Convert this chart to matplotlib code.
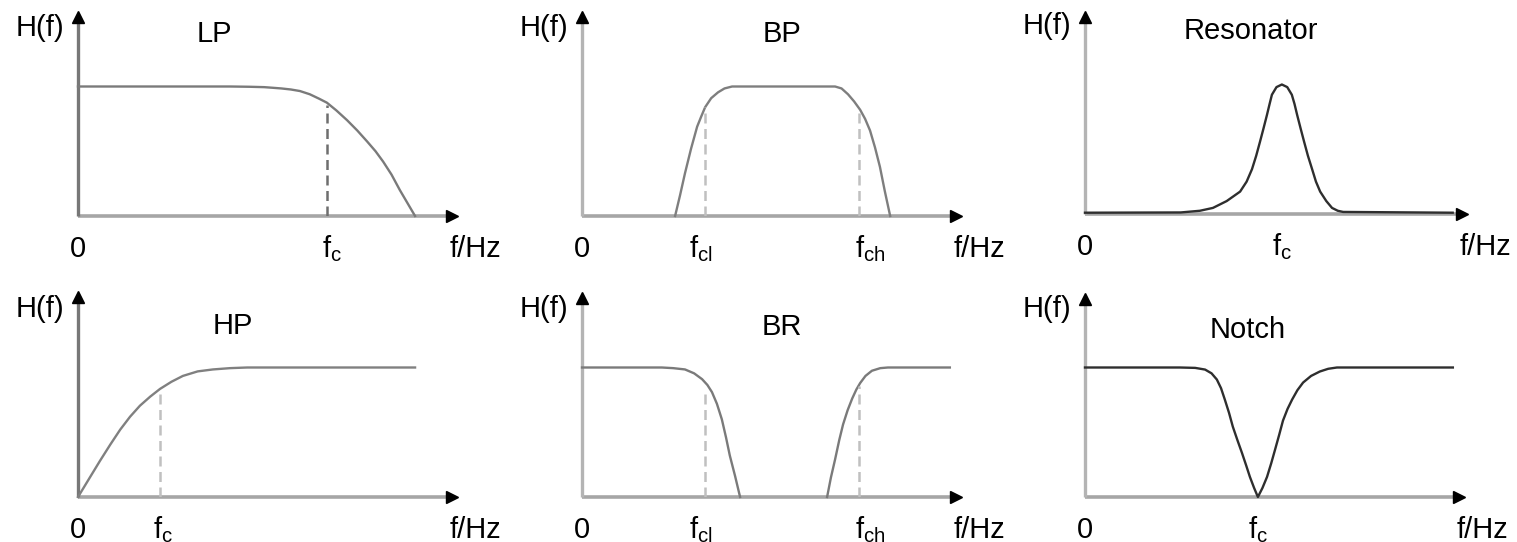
import matplotlib
matplotlib.use('Agg')
from matplotlib import pyplot as plt

plt.rcParams['font.family'] = ['Liberation Sans', 'DejaVu Sans']
plt.rcParams['mathtext.default'] = 'regular'

FS = 21
W, H = 1517, 542
gap = float('nan')

# frequency axis normalised to the arrow tip, gain normalised to the pass band
lp_f = [0.0, 0.40, 0.45, 0.49, 0.513, 0.535, 0.56, 0.584, 0.61, 0.635, 0.655,
        0.68, 0.708, 0.735, 0.761, 0.783, 0.803, 0.825, 0.847, 0.867, 0.887]
lp_h = [1.0, 1.0, 0.998, 0.995, 0.99, 0.985, 0.977, 0.965, 0.94, 0.905, 0.875,
        0.815, 0.74, 0.66, 0.575, 0.50, 0.42, 0.32, 0.2, 0.1, 0.0]

bp_f = [0.245, 0.258, 0.271, 0.287, 0.303, 0.314, 0.324, 0.34, 0.358, 0.375, 0.395,
        0.666, 0.683, 0.700, 0.716, 0.732, 0.745, 0.758, 0.771, 0.784, 0.797, 0.811]
bp_h = [0.0, 0.16, 0.33, 0.52, 0.69, 0.77, 0.84, 0.91, 0.955, 0.985, 1.0,
        1.0, 0.985, 0.94, 0.885, 0.82, 0.75, 0.66, 0.53, 0.38, 0.19, 0.0]

res_f = [0.0, 0.25, 0.30, 0.334, 0.37, 0.405, 0.422, 0.436, 0.447, 0.457, 0.466,
         0.475, 0.482, 0.488, 0.50, 0.514, 0.528, 0.540, 0.547, 0.554, 0.563,
         0.572, 0.582, 0.593, 0.603, 0.614, 0.63, 0.645, 0.66, 0.674, 0.96]
res_h = [0.01, 0.012, 0.025, 0.047, 0.1, 0.173, 0.25, 0.346, 0.45, 0.559, 0.66,
         0.764, 0.85, 0.921, 0.98, 1.0, 0.98, 0.921, 0.85, 0.764, 0.66,
         0.559, 0.45, 0.346, 0.25, 0.173, 0.1, 0.047, 0.025, 0.016, 0.01]

hp_f = [0.0, 0.03, 0.058, 0.085, 0.111, 0.137, 0.163, 0.19, 0.216, 0.246,
        0.276, 0.315, 0.355, 0.40, 0.445, 0.887]
hp_h = [0.0, 0.145, 0.28, 0.405, 0.52, 0.62, 0.705, 0.775, 0.835, 0.89,
        0.935, 0.97, 0.985, 0.995, 1.0, 1.0]

br_f = [0.0, 0.21, 0.24, 0.271, 0.295, 0.316, 0.33, 0.342, 0.355, 0.368, 0.379,
        0.389, 0.403, 0.416, gap, 0.645, 0.655, 0.666, 0.677, 0.687, 0.699,
        0.711, 0.722, 0.732, 0.746, 0.763, 0.785, 0.805, 0.968]
br_h = [1.0, 1.0, 0.995, 0.985, 0.955, 0.91, 0.865, 0.81, 0.72, 0.6, 0.46,
        0.32, 0.16, 0.0, gap, 0.0, 0.15, 0.29, 0.44, 0.56, 0.67,
        0.76, 0.83, 0.88, 0.935, 0.975, 0.995, 1.0, 1.0]

notch_f = [0.0, 0.25, 0.29, 0.316, 0.333, 0.347, 0.358, 0.368, 0.379, 0.389,
           0.401, 0.413, 0.424, 0.434, 0.445, 0.455, 0.467, 0.479, 0.49, 0.5,
           0.511, 0.521, 0.533, 0.545, 0.559, 0.574, 0.595, 0.618, 0.64, 0.663, 0.968]
notch_h = [1.0, 1.0, 0.997, 0.984, 0.955, 0.907, 0.84, 0.752, 0.65, 0.543,
           0.44, 0.341, 0.245, 0.155, 0.07, 0.0, 0.07, 0.155, 0.26, 0.364,
           0.48, 0.59, 0.68, 0.752, 0.825, 0.884, 0.935, 0.969, 0.99, 1.0, 1.0]

# cutoff markers: position, height of dashed line, label position, label
lp_cut = [(0.655, 0.86, 0.668, 'c')]
bp_cut = [(0.324, 0.84, 0.313, 'cl'), (0.729, 0.82, 0.758, 'ch')]
res_cut = [(None, None, 0.514, 'c')]
hp_cut = [(0.216, 0.81, 0.225, 'c')]
br_cut = [(0.324, 0.82, 0.313, 'cl'), (0.729, 0.86, 0.758, 'ch')]
notch_cut = [(None, None, 0.455, 'c')]

# pixel boxes: origin x, arrow tip x, x-axis y, arrow top y
panels = [
    ('LP', (78, 458, 216, 12), lp_f, lp_h, lp_cut, 0.36, 1.34, '#7a7a7a', '#6e6e6e', '#777777'),
    ('BP', (582, 962, 216, 12), bp_f, bp_h, bp_cut, 0.526, 1.34, '#7e7e7e', '#c0c0c0', '#b4b4b4'),
    ('Resonator', (1085, 1468, 214, 12), res_f, res_h, res_cut, 0.433, 1.35, '#2e2e2e', None, '#b4b4b4'),
    ('HP', (78, 458, 497, 292), hp_f, hp_h, hp_cut, 0.408, 1.255, '#808080', '#c0c0c0', '#777777'),
    ('BR', (582, 962, 497, 293), br_f, br_h, br_cut, 0.526, 1.25, '#7a7a7a', '#c0c0c0', '#b4b4b4'),
    ('Notch', (1085, 1465, 497, 294), notch_f, notch_h, notch_cut, 0.429, 1.23, '#2e2e2e', None, '#b4b4b4'),
]

fig = plt.figure(figsize=(W / 100, H / 100), dpi=100)

for name, box, fx, hy, cuts, tx, ty, ccol, dcol, ycol in panels:
    x0, x1, yb, yt = box
    ax = fig.add_axes([x0 / W, (H - yb) / H, (x1 - x0) / W, (yb - yt) / H])
    gain_px = 129.5
    top = (yb - yt) / gain_px
    ax.set_xlim(0, 1)
    ax.set_ylim(0, top)
    ax.axis('off')

    # axes with arrow heads
    ax.plot([0, 0.985], [0, 0], color='#a6a6a6', lw=2.6, clip_on=False, solid_capstyle='butt')
    ax.plot([0, 0], [0, top - 0.04], color=ycol, lw=2.4, clip_on=False, solid_capstyle='butt')
    ax.plot([0.985], [0], marker='>', ms=9, color='black', clip_on=False)
    ax.plot([0], [top - 0.04], marker='^', ms=9, color='black', clip_on=False)

    ax.plot(fx, hy, color=ccol, lw=1.7, clip_on=False, solid_joinstyle='round')

    for xc, hc, lx, sub in cuts:
        if xc is not None:
            ax.plot([xc, xc], [0, hc], color=dcol, lw=1.8, ls=(0, (4, 2.2)))
        ax.text(lx, -0.315, r'$f_{%s}$' % sub, fontsize=FS, ha='center', va='baseline')

    ax.text(0, -0.315, '0', fontsize=FS, ha='center', va='baseline')
    ax.text(1.045, -0.315, 'f/Hz', fontsize=FS, ha='center', va='baseline')
    ax.text(-0.10, 1.39, 'H(f)', fontsize=FS, ha='center', va='baseline')
    ax.text(tx, ty, name, fontsize=FS, ha='center', va='baseline')

plt.savefig('out.png', dpi=100)
